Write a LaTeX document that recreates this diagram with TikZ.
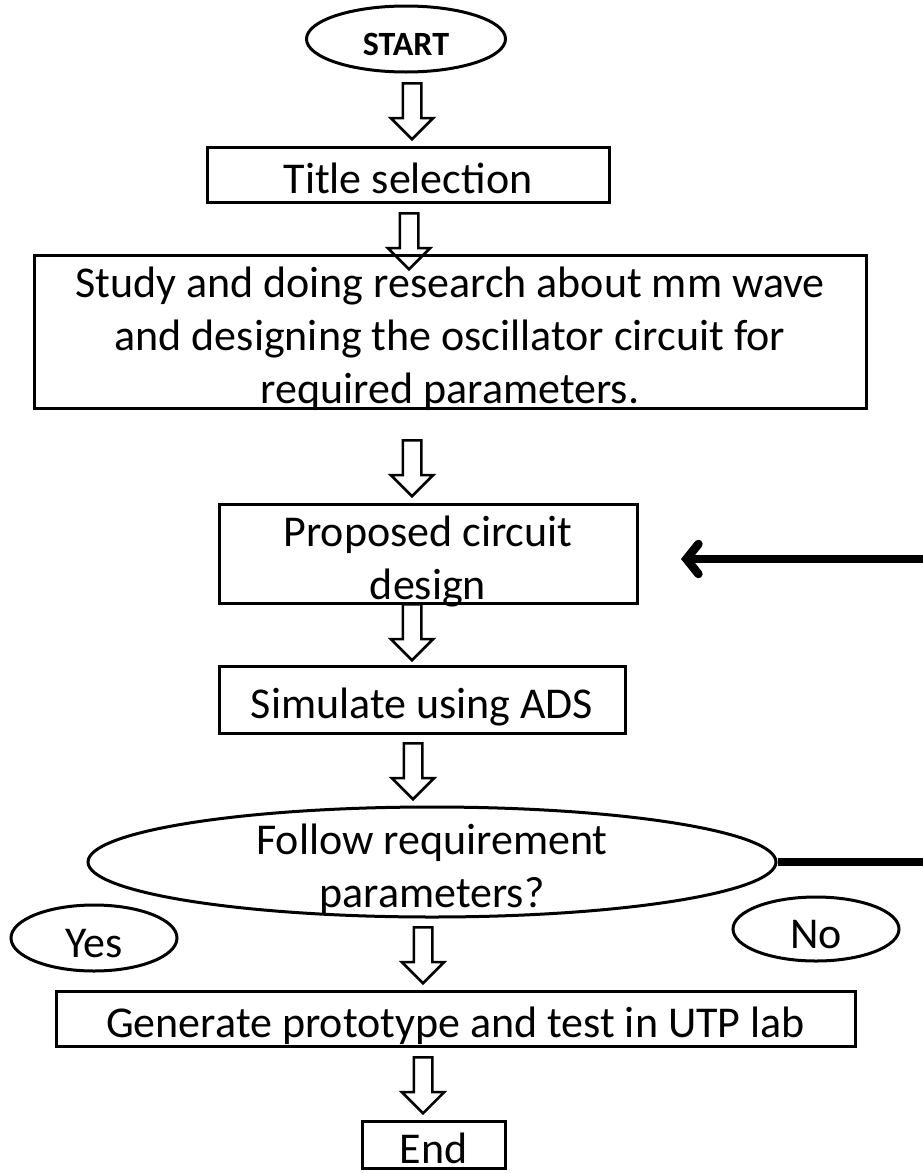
\documentclass[tikz,border=0pt]{standalone}
\usepackage{fontspec}
\setmainfont{Carlito}
\usetikzlibrary{positioning, arrows.meta, shapes.geometric, shapes.arrows, calc}
\newcommand{\flowtext}[1]{\smash{\raisebox{-15pt}{\begin{tabular}{@{}c@{}}#1\end{tabular}}}}

\begin{document}
\begin{tikzpicture}[x=1pt, y=-1pt,
    box/.style={draw, line width=3pt, inner sep=0pt, font=\fontsize{44}{53}\selectfont},
    oval/.style={box, ellipse},
    harrow/.style={draw, single arrow, shape border rotate=270, anchor=tail,
      line width=2.5pt, inner sep=8pt, single arrow head extend=12pt,
      minimum height=56pt},
    loopline/.style={line width=8.5pt}]
    \useasboundingbox (0,0) rectangle (923,1173);
    % main flow
    \node[oval, minimum width=199pt, minimum height=66pt, font=\fontsize{34}{40}\selectfont\bfseries]
      (start) at (406,39) {\flowtext{START}};
    \node[box, minimum width=402pt, minimum height=55pt] (title) at (408,174.5) {\flowtext{Title selection}};
    \node[box, minimum width=832pt, minimum height=153pt] (study) at (450,331.5)
      {\flowtext{Study and doing research about mm wave\\ and designing the oscillator circuit for\\ required parameters.}};
    \node[box, minimum width=418pt, minimum height=99pt] (proposed) at (428,553.5)
      {\flowtext{Proposed circuit\\ design}};
    \node[box, minimum width=406pt, minimum height=67pt] (simulate) at (422,699.5) {\flowtext{Simulate using ADS}};
    \node[oval, minimum width=688pt, minimum height=110pt] (decision) at (432,862)
      {\flowtext{Follow requirement\\ parameters?}};
    \node[oval, minimum width=166pt, minimum height=66pt] (yes) at (94,938) {\flowtext{Yes}};
    \node[oval, minimum width=166pt, minimum height=64pt] (no) at (816,929) {\flowtext{No}};
    \node[box, minimum width=799pt, minimum height=55pt] (generate) at (455.5,1018.5)
      {\flowtext{Generate prototype and test in UTP lab}};
    \node[box, minimum width=143pt, minimum height=47pt] (end) at (433.5,1144.5) {\flowtext{End}};
    % hollow arrows
    \node[harrow] (a1) at (412,82) {};
    \node[harrow] (a2) at (409,212) {};
    \node[harrow] (a3) at (412,439) {};
    \node[harrow] (a4) at (412,603) {};
    \node[harrow] (a5) at (413,742) {};
    \node[harrow] (a6) at (423,926) {};
    \node[harrow] (a7) at (423,1056) {};
    % loop back
    \coordinate (loopin) at (923,559);
    \coordinate (looptip) at (681,559);
    \coordinate (loopout) at (923,862);
    \draw[loopline] (decision.east) -- (loopout);
    \draw[loopline, -{Straight Barb[length=12pt, width=30pt, line cap=round]}] (loopin) -- (looptip);
\end{tikzpicture}
\end{document}
